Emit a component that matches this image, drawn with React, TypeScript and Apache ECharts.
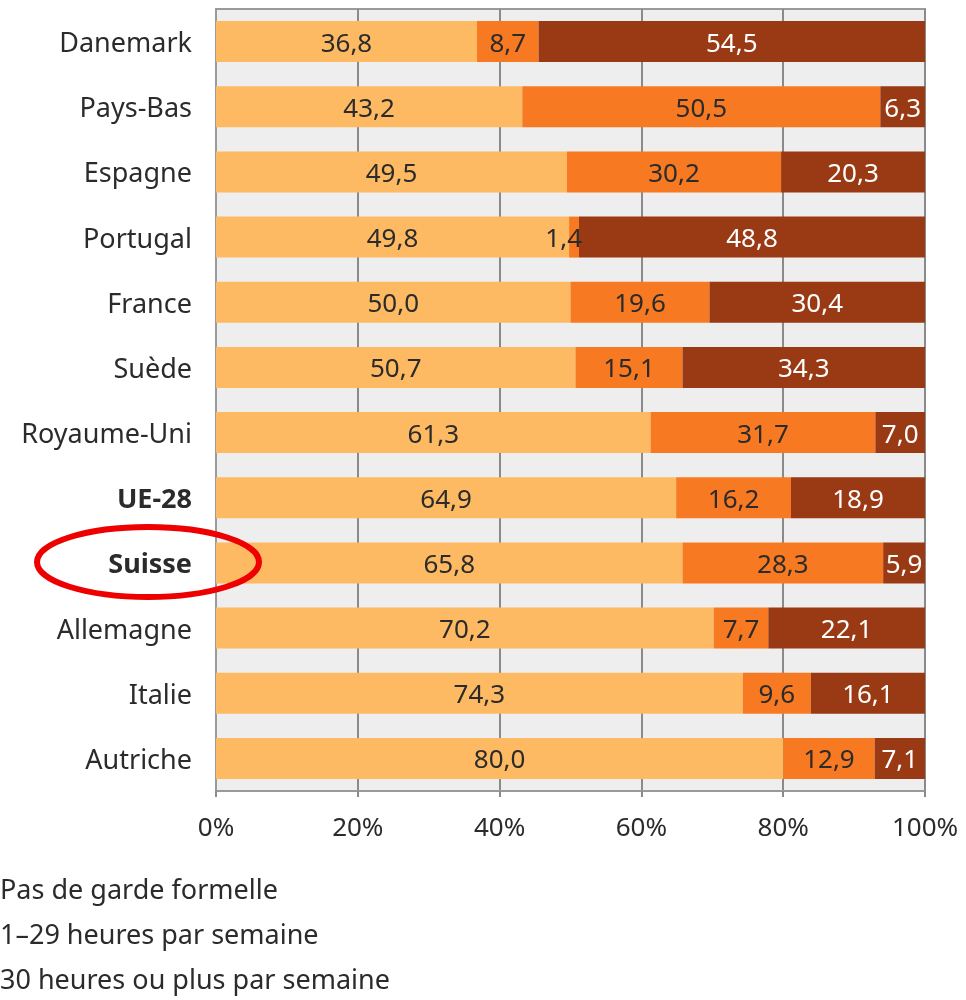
import React, { useEffect, useRef } from "react";
import * as echarts from "echarts";

const countries = [
  "Danemark", "Pays-Bas", "Espagne", "Portugal", "France", "Suède",
  "Royaume-Uni", "UE-28", "Suisse", "Allemagne", "Italie", "Autriche",
];
const boldCountries = ["UE-28", "Suisse"];
const seriesNames = [
  "Pas de garde formelle",
  "1–29 heures par semaine",
  "30 heures ou plus par semaine",
];
const noCare = [36.8, 43.2, 49.5, 49.8, 50.0, 50.7, 61.3, 64.9, 65.8, 70.2, 74.3, 80.0];
const part = [8.7, 50.5, 30.2, 1.4, 19.6, 15.1, 31.7, 16.2, 28.3, 7.7, 9.6, 12.9];
const full = [54.5, 6.3, 20.3, 48.8, 30.4, 34.3, 7.0, 18.9, 5.9, 22.1, 16.1, 7.1];
const xTicks = [0, 20, 40, 60, 80, 100];

const FONT = "'Noto Sans', 'Open Sans', sans-serif";
const FS = 27;
const colors = ["#FEBA62", "#F77A22", "#9A3A14"];
const labelColors = ["#2b2b2b", "#2b2b2b", "#ffffff"];

export default function App() {
  const ref = useRef<HTMLDivElement>(null);
  useEffect(() => {
    if (!ref.current) return;
    const chart = echarts.init(ref.current, null, { renderer: "svg" });
    const all = [noCare, part, full];
    const fmt = (v: number) => v.toFixed(1).replace(".", ",");
    const series = all.map((vals, si) => ({
      name: seriesNames[si],
      type: "bar",
      stack: "total",
      barWidth: 41,
      itemStyle: { color: colors[si] },
      label: {
        show: true,
        position: "inside",
        color: labelColors[si],
        fontFamily: FONT,
        fontSize: 26,
        formatter: (p: any) => fmt(p.value),
      },
      data: vals.map((v) =>
        v < 3
          ? { value: v, label: { position: "insideRight", distance: -3 } }
          : v
      ),
    }));
    chart.setOption({
      animation: false,
      grid: {
        left: 216,
        right: 41,
        top: 9,
        bottom: 209,
        show: true,
        backgroundColor: "#eeeeee",
        borderColor: "#9a9a9a",
        borderWidth: 2,
      },
      legend: {
        orient: "vertical",
        left: -30,
        top: 873,
        height: 160,
        padding: 0,
        itemWidth: 25,
        itemHeight: 30,
        itemGap: 15,
        icon: "rect",
        textStyle: { fontFamily: FONT, fontSize: FS, color: "#2b2b2b" },
        data: seriesNames,
      },
      xAxis: {
        type: "value",
        min: xTicks[0],
        max: xTicks[xTicks.length - 1],
        interval: 20,
        axisLine: { show: true, lineStyle: { color: "#9a9a9a", width: 2 } },
        axisTick: { show: true, length: 6, lineStyle: { color: "#8a8a8a", width: 2 } },
        splitLine: { show: true, lineStyle: { color: "#8a8a8a", width: 2 } },
        axisLabel: {
          fontFamily: FONT,
          fontSize: 26,
          color: "#2b2b2b",
          margin: 22,
          formatter: "{value}%",
        },
      },
      yAxis: {
        type: "category",
        inverse: true,
        data: countries,
        axisLine: { show: true, lineStyle: { color: "#9a9a9a", width: 2 } },
        axisTick: { show: false },
        axisLabel: {
          fontFamily: FONT,
          fontSize: FS,
          color: "#2b2b2b",
          margin: 24,
          formatter: (v: string) => (boldCountries.includes(v) ? `{b|${v}}` : v),
          rich: {
            b: { fontFamily: FONT, fontSize: FS, fontWeight: "bold", color: "#2b2b2b" },
          },
        },
      },
      series,
      graphic: [
        {
          type: "ellipse",
          z: 100,
          shape: { cx: 148, cy: 562, rx: 111, ry: 35 },
          style: { fill: "none", stroke: "#ee0000", lineWidth: 6 },
        },
      ],
    });
    return () => chart.dispose();
  }, []);
  return (
    <div
      ref={ref}
      style={{ position: "fixed", left: 0, top: 0, width: 966, height: 1000 }}
    />
  );
}
